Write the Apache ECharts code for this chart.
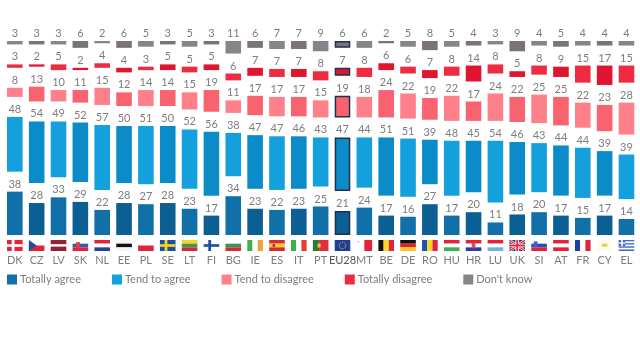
<!DOCTYPE html>
<html>
<head>
<meta charset="utf-8">
<title>Agreement by country</title>
<style>html,body{margin:0;background:#fff}#chart{width:640px;height:350px}</style>
<script src="https://cdn.jsdelivr.net/npm/echarts@6/dist/echarts.min.js"></script>
</head>
<body>
<div id="chart"></div>
<script>
const countries = ['DK','CZ','LV','SK','NL','EE','PL','SE','LT','FI','BG','IE','ES','IT','PT','EU28','MT','BE','DE','RO','HU','HR','LU','UK','SI','AT','FR','CY','EL']
const totallyAgree    = [38,28,33,29,22,28,27,28,23,17,34,23,22,23,25,21,24,17,16,27,17,20,11,18,20,17,15,17,14]
const tendToAgree     = [48,54,49,52,57,50,51,50,52,56,38,47,47,46,43,47,44,51,51,39,48,45,54,46,43,44,44,39,39]
const tendToDisagree  = [8,13,10,11,15,12,14,14,15,19,11,17,17,17,15,19,18,24,22,19,22,17,24,22,25,25,22,23,28]
const totallyDisagree = [3,2,5,2,4,4,3,5,5,5,6,7,7,7,8,7,8,6,6,7,8,14,8,5,8,9,15,17,15]
const dontKnow        = [3,3,3,6,2,6,5,3,5,3,11,6,7,7,9,6,6,2,5,8,5,4,3,9,4,5,4,4,4]

// the segments float apart, a see-through stack part of this size keeps the label room
const GAP = 17.5
const BAR_W = 15.6
const SEGMENTS = [
  { name: 'Totally agree',    data: totallyAgree,    c: '#1270a8', c2: '#0c5f92' },
  { name: 'Tend to agree',    data: tendToAgree,     c: '#14a0dc', c2: '#0b8cc8' },
  { name: 'Tend to disagree', data: tendToDisagree,  c: '#fd808a', c2: '#f8636f' },
  { name: 'Totally disagree', data: totallyDisagree, c: '#ef2b42', c2: '#e0152f' },
  { name: "Don't know",       data: dontKnow,        c: '#86858a', c2: '#7b7379' }
]

// flags, unit square: rect [colour,x,y,w,h] or polygon [colour,[[x,y],...]]
const hs = (...c) => c.map((col, i) => [col, 0, i / c.length, 1, 1 / c.length])
const vs = (...c) => c.map((col, i) => [col, i / c.length, 0, 1 / c.length, 1])
const nordic = (bg, fg) => [[bg, 0, 0, 1, 1], [fg, 0.3, 0, 0.18, 1], [fg, 0, 0.38, 1, 0.24]]
const FLAGS = {
  DK: nordic('#e2233c', '#fff'),
  CZ: [...hs('#fff', '#e2233c'), ['#1f4f9c', [[0, 0], [0.5, 0.5], [0, 1]]]],
  LV: [['#8f2233', 0, 0, 1, 0.4], ['#fff', 0, 0.4, 1, 0.2], ['#8f2233', 0, 0.6, 1, 0.4]],
  SK: [...hs('#fff', '#2a5fc0', '#e2233c'), ['#d8404c', 0.22, 0.2, 0.26, 0.55]],
  NL: hs('#e2233c', '#fff', '#2440a8'),
  EE: hs('#f4f8fc', '#111', '#f4f4f4'),
  PL: hs('#fff', '#e2233c'),
  SE: nordic('#1c4fa0', '#f8d520'),
  LT: hs('#f0d820', '#3f9a45', '#d8283c'),
  FI: nordic('#fff', '#1c4fa0'),
  BG: hs('#fff', '#2f9a58', '#d8283c'),
  IE: vs('#3cb04a', '#fff', '#f2a040'),
  ES: [...hs('#d8283c', '#f8d020', '#d8283c'), ['#a84020', 0.22, 0.36, 0.16, 0.28]],
  IT: vs('#3cb04a', '#fff', '#e04030'),
  PT: [['#2b7a3c', 0, 0, 0.4, 1], ['#e0303c', 0.4, 0, 0.6, 1], ['#e8c840', 0.3, 0.32, 0.2, 0.36]],
  EU28: [['#1f3f94', 0, 0, 1, 1]],
  MT: [['#fff', 0, 0, 0.5, 1], ['#e2233c', 0.5, 0, 0.5, 1], ['#bbb', 0.08, 0.08, 0.1, 0.14]],
  BE: vs('#111', '#f8d820', '#e2233c'),
  DE: hs('#111', '#e0202c', '#f8c820'),
  RO: vs('#1f4fb0', '#f8d820', '#e2233c'),
  HU: hs('#e2233c', '#fff', '#3cb04a'),
  HR: [...hs('#e2233c', '#fff', '#2440a8'), ['#d85060', 0.38, 0.25, 0.24, 0.5]],
  LU: hs('#e2233c', '#fff', '#6cb0ea'),
  UK: [['#27387e', 0, 0, 1, 1],
    ['#fff', [[0, 0], [0.14, 0], [1, 0.86], [1, 1], [0.86, 1], [0, 0.14]]],
    ['#fff', [[1, 0], [1, 0.14], [0.14, 1], [0, 1], [0, 0.86], [0.86, 0]]],
    ['#e2233c', [[0, 0], [0.07, 0], [1, 0.93], [1, 1], [0.93, 1], [0, 0.07]]],
    ['#e2233c', [[1, 0], [1, 0.07], [0.07, 1], [0, 1], [0, 0.93], [0.93, 0]]],
    ['#fff', 0.38, 0, 0.24, 1], ['#fff', 0, 0.34, 1, 0.32],
    ['#e2233c', 0.44, 0, 0.12, 1], ['#e2233c', 0, 0.41, 1, 0.18]],
  SI: [...hs('#fff', '#2050b8', '#e2233c'), ['#3868c8', 0.16, 0.12, 0.24, 0.5]],
  AT: hs('#e2233c', '#fff', '#e2233c'),
  FR: vs('#1f3fa8', '#fff', '#d8283c'),
  CY: [['#fbfbf4', 0, 0, 1, 1], ['#e8d050', 0.32, 0.32, 0.36, 0.3]],
  EL: [...hs('#3f6fc8', '#fff', '#3f6fc8', '#fff', '#3f6fc8', '#fff', '#3f6fc8'),
    ['#3f6fc8', 0, 0, 0.42, 0.56], ['#fff', 0.16, 0, 0.1, 0.56], ['#fff', 0, 0.22, 0.42, 0.12]]
}

function renderFlag(params, api) {
  const code = countries[api.value(0)]
  const p = api.coord([api.value(0), 0])
  const w = BAR_W, h = 11, x0 = p[0] - w / 2, y0 = p[1] + 5
  const children = FLAGS[code].map(part => {
    const style = { fill: part[0] }
    if (Array.isArray(part[1])) {
      return { type: 'polygon', shape: { points: part[1].map(q => [x0 + q[0] * w, y0 + q[1] * h]) }, style }
    }
    return { type: 'rect', shape: { x: x0 + part[1] * w, y: y0 + part[2] * h, width: part[3] * w, height: part[4] * h }, style }
  })
  if (code === 'EU28') {
    children.push({ type: 'circle', shape: { cx: p[0], cy: y0 + h / 2, r: 3.2 }, style: { fill: 'none', stroke: '#e8d040', lineWidth: 1, lineDash: [1, 1] } })
  }
  return { type: 'group', children }
}

const series = []
SEGMENTS.forEach((s, k) => {
  series.push({
    name: s.name, type: 'bar', stack: 'all', barWidth: BAR_W, color: s.c, silent: true,
    label: { show: true, position: 'top', distance: 2, color: '#7d7d7d', fontSize: 11, fontFamily: 'Lato' },
    data: s.data.map((v, i) => ({
      value: v,
      itemStyle: {
        color: i % 2 ? s.c2 : s.c,
        borderColor: countries[i] === 'EU28' ? '#232f4f' : 'transparent',
        borderWidth: countries[i] === 'EU28' ? 1.5 : 0
      }
    }))
  })
  if (k < SEGMENTS.length - 1) {
    series.push({
      type: 'bar', stack: 'all', barWidth: BAR_W, silent: true,
      itemStyle: { color: 'transparent' },
      data: countries.map(() => GAP)
    })
  }
})
series.push({
  type: 'custom', silent: true, clip: false, renderItem: renderFlag,
  data: countries.map((c, i) => [i])
})

const chart = echarts.init(document.getElementById('chart'), null, { renderer: 'canvas' })
chart.setOption({
  animation: false,
  backgroundColor: '#fff',
  grid: { left: 3.9, right: 2.6, top: 41, bottom: 115 },
  legend: {
    left: 7, top: 274, padding: 0, itemWidth: 10, itemHeight: 10, itemGap: 31,
    icon: 'rect', selectedMode: false,
    textStyle: { color: '#7d7d7d', fontSize: 11, fontFamily: 'Lato', padding: [0, 0, 0, -2] },
    data: SEGMENTS.map(s => s.name)
  },
  xAxis: {
    type: 'category', data: countries,
    axisLine: { show: false }, axisTick: { show: false },
    axisLabel: {
      margin: 20, interval: 0, fontSize: 11, fontFamily: 'Lato', hideOverlap: false,
      color: v => v === 'EU28' ? '#555' : '#7d7d7d'
    }
  },
  yAxis: { type: 'value', min: 0, max: 100 + 4 * GAP, show: false },
  series
})
window.addEventListener('resize', () => chart.resize())
</script>
</body>
</html>
